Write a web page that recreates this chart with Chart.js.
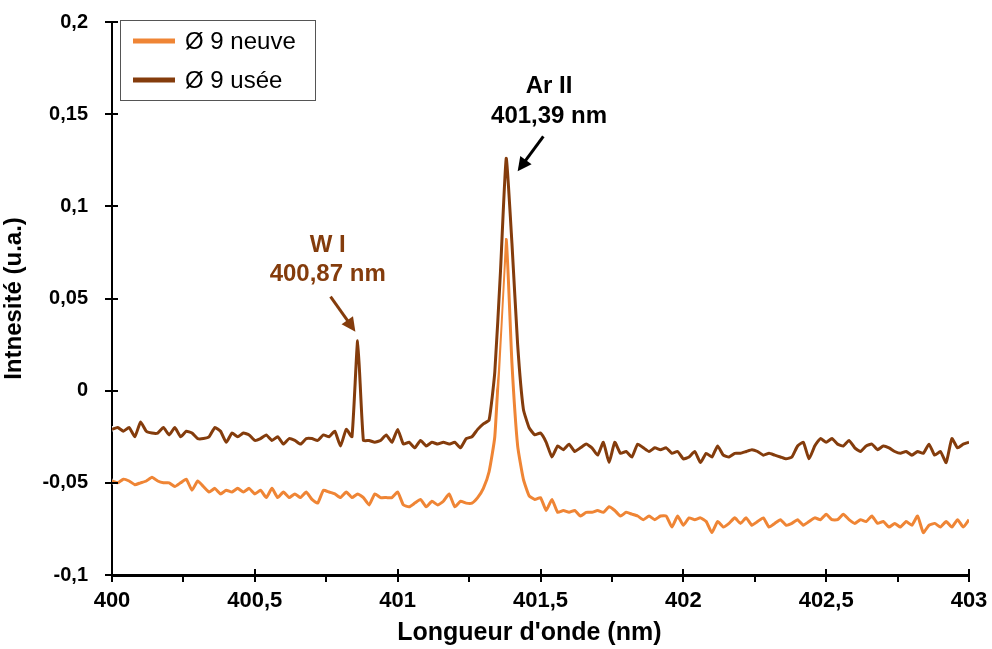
<!DOCTYPE html>
<html lang="fr">
<head>
<meta charset="utf-8">
<title>Spectre Ø 9</title>
<script src="https://cdn.jsdelivr.net/npm/chart.js@4.4.0/dist/chart.umd.min.js"></script>
<style>
  html, body { margin: 0; padding: 0; background: #fff; }
  #wrap { width: 992px; height: 649px; }
</style>
</head>
<body>
<div id="wrap"><canvas id="spectre"></canvas></div>
<script>
// grille en longueur d'onde (nm) : début + pas
const lambdaDebut = 400;
const pasLambda = 0.02;

// intensités (u.a.)
const neuve = [
  -0.049, -0.050, -0.048, -0.049, -0.051, -0.050, -0.049, -0.047, -0.049, -0.050,
  -0.050, -0.052, -0.050, -0.048, -0.054, -0.049, -0.052, -0.055, -0.053, -0.056,
  -0.054, -0.055, -0.053, -0.055, -0.053, -0.056, -0.054, -0.058, -0.053, -0.058,
  -0.055, -0.058, -0.056, -0.058, -0.055, -0.059, -0.061, -0.054, -0.055, -0.056,
  -0.058, -0.055, -0.058, -0.056, -0.058, -0.062, -0.056, -0.058, -0.058, -0.058,
  -0.055, -0.062, -0.063, -0.061, -0.059, -0.063, -0.060, -0.062, -0.060, -0.056,
  -0.063, -0.060, -0.061, -0.061, -0.058, -0.053, -0.044, -0.025, 0.030, 0.082,
  0.015, -0.030, -0.048, -0.057, -0.059, -0.058, -0.065, -0.059, -0.066, -0.065,
  -0.066, -0.065, -0.068, -0.066, -0.066, -0.065, -0.066, -0.063, -0.065, -0.068,
  -0.066, -0.067, -0.068, -0.070, -0.068, -0.070, -0.068, -0.068, -0.074, -0.068,
  -0.073, -0.069, -0.070, -0.069, -0.071, -0.077, -0.071, -0.074, -0.072, -0.069,
  -0.072, -0.069, -0.073, -0.071, -0.069, -0.074, -0.072, -0.070, -0.073, -0.072,
  -0.070, -0.073, -0.071, -0.069, -0.070, -0.067, -0.070, -0.070, -0.067, -0.070,
  -0.072, -0.070, -0.071, -0.068, -0.072, -0.071, -0.074, -0.072, -0.074, -0.071,
  -0.073, -0.068, -0.077, -0.073, -0.072, -0.074, -0.071, -0.074, -0.070, -0.074,
  -0.070
];

const usee = [
  -0.021, -0.020, -0.022, -0.020, -0.025, -0.017, -0.022, -0.023, -0.023, -0.020,
  -0.024, -0.020, -0.025, -0.022, -0.023, -0.026, -0.026, -0.025, -0.020, -0.022,
  -0.028, -0.023, -0.025, -0.023, -0.024, -0.027, -0.026, -0.024, -0.027, -0.025,
  -0.029, -0.026, -0.027, -0.029, -0.026, -0.026, -0.027, -0.024, -0.025, -0.022,
  -0.030, -0.021, -0.025, 0.027, -0.027, -0.027, -0.028, -0.027, -0.024, -0.028,
  -0.021, -0.029, -0.028, -0.031, -0.027, -0.030, -0.028, -0.029, -0.028, -0.029,
  -0.028, -0.031, -0.026, -0.025, -0.021, -0.018, -0.016, 0.010, 0.065, 0.126,
  0.080, 0.025, -0.010, -0.020, -0.024, -0.023, -0.028, -0.036, -0.030, -0.032,
  -0.029, -0.033, -0.031, -0.029, -0.031, -0.035, -0.028, -0.039, -0.028, -0.034,
  -0.033, -0.036, -0.029, -0.031, -0.033, -0.031, -0.032, -0.031, -0.034, -0.033,
  -0.037, -0.036, -0.033, -0.039, -0.034, -0.036, -0.030, -0.035, -0.036, -0.034,
  -0.034, -0.033, -0.032, -0.033, -0.035, -0.034, -0.035, -0.036, -0.037, -0.036,
  -0.030, -0.028, -0.037, -0.030, -0.026, -0.028, -0.026, -0.029, -0.030, -0.027,
  -0.031, -0.033, -0.030, -0.029, -0.032, -0.030, -0.031, -0.033, -0.034, -0.033,
  -0.035, -0.033, -0.034, -0.029, -0.035, -0.033, -0.039, -0.026, -0.031, -0.029,
  -0.028
];

const series = ["Ø 9 neuve", "Ø 9 usée"];
const couleurs = ["#EF8535", "#843C0C"];

// axes
const xMin = 400, xMax = 403, xPas = 0.5, xPasMineur = 0.25;
const yMin = -0.1, yMax = 0.2, yPas = 0.05;
const titreX = "Longueur d'onde (nm)";
const titreY = "Intnesité (u.a.)";

// annotations des raies (position en nm / u.a.)
const raies = [
  { lignes: ["W I", "400,87 nm"], x: 400.755, y: [0.079, 0.063], couleur: "#843C0C",
    fleche: [400.765, 0.051, 400.852, 0.032] },
  { lignes: ["Ar II", "401,39 nm"], x: 401.53, y: [0.165, 0.149], couleur: "#000000",
    fleche: [401.51, 0.138, 401.42, 0.119] }
];

const police = "'Liberation Sans', Arial, sans-serif";
const versPoints = (valeurs) => valeurs.map((v, i) => ({ x: lambdaDebut + i * pasLambda, y: v }));
const virgule = (v) => (Math.round(v * 100) / 100).toString().replace(".", ",");

function fleche(ctx, x1, y1, x2, y2, couleur) {
  const ang = Math.atan2(y2 - y1, x2 - x1);
  const L = 14, W = 7;
  ctx.save();
  ctx.strokeStyle = couleur;
  ctx.fillStyle = couleur;
  ctx.lineWidth = 3;
  ctx.beginPath();
  ctx.moveTo(x1, y1);
  ctx.lineTo(x2 - L * 0.7 * Math.cos(ang), y2 - L * 0.7 * Math.sin(ang));
  ctx.stroke();
  ctx.beginPath();
  ctx.moveTo(x2, y2);
  ctx.lineTo(x2 - L * Math.cos(ang) + W * Math.sin(ang), y2 - L * Math.sin(ang) - W * Math.cos(ang));
  ctx.lineTo(x2 - L * Math.cos(ang) - W * Math.sin(ang), y2 - L * Math.sin(ang) + W * Math.cos(ang));
  ctx.closePath();
  ctx.fill();
  ctx.restore();
}

// petites graduations qui traversent les axes + titre de l'axe x
const graduations = {
  id: "graduations",
  afterDraw(chart) {
    const { ctx, scales: { x, y } } = chart;
    ctx.save();
    ctx.strokeStyle = "#000";
    ctx.lineWidth = 2;
    for (let v = yMin; v <= yMax + 1e-9; v += yPas) {
      const py = Math.round(y.getPixelForValue(v));
      ctx.beginPath();
      ctx.moveTo(x.left - 7, py);
      ctx.lineTo(x.left + 6, py);
      ctx.stroke();
    }
    for (let v = xMin; v <= xMax + 1e-9; v += xPasMineur) {
      const px = Math.round(x.getPixelForValue(v));
      const majeure = Math.abs(v / xPas - Math.round(v / xPas)) < 1e-6;
      ctx.beginPath();
      ctx.moveTo(px, majeure ? y.bottom - 6 : y.bottom);
      ctx.lineTo(px, y.bottom + 7);
      ctx.stroke();
    }
    ctx.fillStyle = "#000";
    ctx.font = "bold 25px " + police;
    ctx.textAlign = "center";
    ctx.textBaseline = "middle";
    ctx.fillText(titreX, x.left + (x.right - x.left) * 0.487, 633);
    ctx.restore();
  }
};

// légende encadrée en haut à gauche
const legende = {
  id: "legende",
  afterDraw(chart) {
    const { ctx } = chart;
    const x0 = 120, y0 = 20, w = 195, h = 80;
    ctx.save();
    ctx.fillStyle = "#fff";
    ctx.fillRect(x0, y0, w, h);
    ctx.strokeStyle = "#555";
    ctx.lineWidth = 1;
    ctx.strokeRect(x0 + 0.5, y0 + 0.5, w, h);
    series.forEach((nom, i) => {
      const yy = y0 + 21 + i * 39;
      ctx.strokeStyle = couleurs[i];
      ctx.lineWidth = 5;
      ctx.beginPath();
      ctx.moveTo(x0 + 13, yy);
      ctx.lineTo(x0 + 55, yy);
      ctx.stroke();
      ctx.fillStyle = "#000";
      ctx.font = "24px " + police;
      ctx.textBaseline = "middle";
      ctx.fillText(nom, x0 + 65, yy + 1);
    });
    ctx.restore();
  }
};

const etiquettes = {
  id: "etiquettes",
  afterDatasetsDraw(chart) {
    const { ctx, scales: { x, y } } = chart;
    ctx.save();
    raies.forEach((r) => {
      ctx.fillStyle = r.couleur;
      ctx.font = "bold 24px " + police;
      ctx.textAlign = "center";
      ctx.textBaseline = "middle";
      r.lignes.forEach((t, i) => ctx.fillText(t, x.getPixelForValue(r.x), y.getPixelForValue(r.y[i])));
      const [a, b, c, d] = r.fleche;
      fleche(ctx, x.getPixelForValue(a), y.getPixelForValue(b), x.getPixelForValue(c), y.getPixelForValue(d), r.couleur);
    });
    ctx.restore();
  }
};

const jeu = (donnees, couleur, largeur, ordre) => ({
  data: versPoints(donnees),
  borderColor: couleur,
  borderWidth: largeur,
  pointRadius: 0,
  tension: 0.15,
  fill: false,
  order: ordre
});

new Chart(document.getElementById("spectre"), {
  type: "line",
  data: {
    datasets: [
      jeu(usee, couleurs[1], 3, 1),
      jeu(usee, "#ffffff", 6, 2),
      jeu(neuve, couleurs[0], 3, 3),
      jeu(neuve, "#ffffff", 6, 4)
    ]
  },
  options: {
    responsive: true,
    maintainAspectRatio: false,
    animation: false,
    layout: { padding: { top: 22, right: 23, left: 0, bottom: 0 } },
    plugins: {
      legend: { display: false },
      tooltip: { enabled: false }
    },
    scales: {
      x: {
        type: "linear",
        min: xMin,
        max: xMax,
        afterFit: (s) => { s.height = 74; s.paddingLeft = 0; s.paddingRight = 0; },
        grid: { display: false, drawTicks: false },
        border: { display: true, color: "#000", width: 3 },
        ticks: {
          stepSize: xPas,
          padding: 13,
          color: "#000",
          font: { family: police, size: 22, weight: "bold" },
          callback: virgule
        },
        title: { display: false }
      },
      y: {
        min: yMin,
        max: yMax,
        afterFit: (s) => { s.width = 112; s.paddingTop = 0; s.paddingBottom = 0; },
        grid: { display: false, drawTicks: false },
        border: { display: true, color: "#000", width: 2 },
        ticks: {
          stepSize: yPas,
          padding: 24,
          color: "#000",
          font: { family: police, size: 20, weight: "bold" },
          callback: virgule
        },
        title: {
          display: true,
          text: titreY,
          color: "#000",
          font: { family: police, size: 24, weight: "bold" },
          padding: { top: 0, bottom: 0 }
        }
      }
    }
  },
  plugins: [graduations, legende, etiquettes]
});
</script>
</body>
</html>
